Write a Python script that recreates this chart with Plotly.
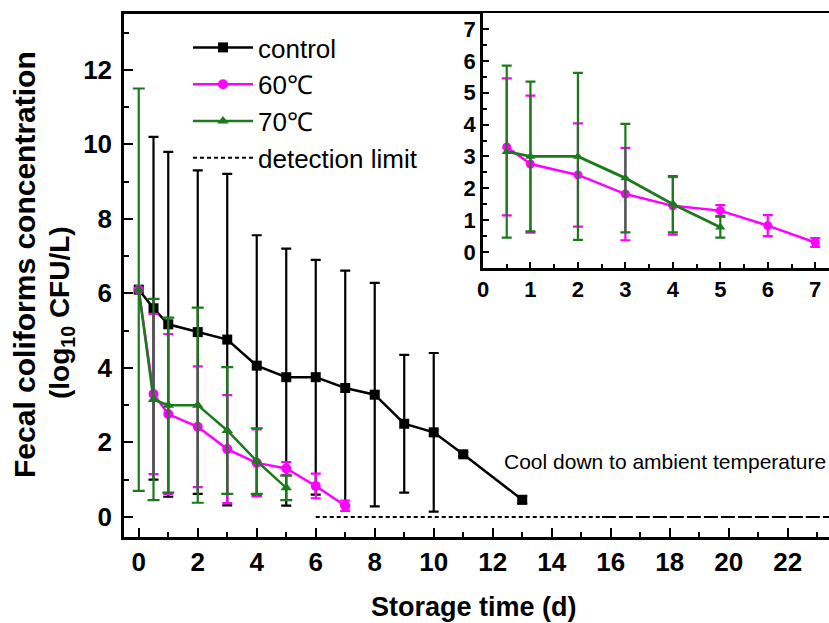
import plotly.graph_objects as go

# ---------------- data ----------------
control_x = [0, 0.5, 1, 2, 3, 4, 5, 6, 7, 8, 9, 10, 11, 13]
control_y = [6.1, 5.6, 5.17, 4.96, 4.76, 4.06, 3.75, 3.75, 3.46, 3.28, 2.5, 2.27, 1.68, 0.46]
control_err = [0, 4.6, 4.63, 4.34, 4.45, 3.5, 3.45, 3.15, 3.15, 3.0, 1.85, 2.13, 0.05, 0.1]

t60_x = [0, 0.5, 1, 2, 3, 4, 5, 6, 7]
t60_y = [6.1, 3.3, 2.76, 2.42, 1.82, 1.45, 1.3, 0.83, 0.3]
t60_err = [0, 2.15, 2.15, 1.62, 1.45, 0.9, 0.17, 0.33, 0.14]

t70_x = [0, 0.5, 1, 2, 3, 4, 5]
t70_y = [6.1, 3.15, 3.0, 3.0, 2.32, 1.5, 0.78]
t70_err = [5.4, 2.7, 2.35, 2.62, 1.7, 0.88, 0.33]

detect_dot_x = [6, 15.7]
detect_dash_x = [15.7, 23.6]
detect_y = [0, 0]

main_xticks = [0, 2, 4, 6, 8, 10, 12, 14, 16, 18, 20, 22]
main_yticks = [0, 2, 4, 6, 8, 10, 12]
inset_xticks = [0, 1, 2, 3, 4, 5, 6, 7]
inset_yticks = [0, 1, 2, 3, 4, 5, 6, 7]

BLACK = "#000000"
MAGENTA = "#FF00FF"
GREEN = "#1C7A1C"
FONT = "Liberation Sans, Arial, sans-serif"

W, H = 829, 623

fig = go.Figure()


def series(x, y, e, name, color, symbol, size, xa, ya, show, lw=2.5, cap=5):
    return go.Scatter(
        x=x, y=y, name=name, mode="lines+markers",
        line=dict(color=color, width=lw),
        marker=dict(symbol=symbol, size=size, color=color),
        error_y=dict(type="data", array=e, visible=True, color=color,
                     thickness=2.2, width=cap),
        xaxis=xa, yaxis=ya, showlegend=show,
    )


fig.add_trace(series(control_x, control_y, control_err, "control", BLACK, "square", 10, "x", "y", True))
fig.add_trace(series(t60_x, t60_y, t60_err, "60\u2103", MAGENTA, "circle", 10, "x", "y", True))
fig.add_trace(series(t70_x, t70_y, t70_err, "70\u2103", GREEN, "triangle-up", 10, "x", "y", True, cap=6))
fig.add_trace(go.Scatter(x=detect_dot_x, y=detect_y, name="detection limit", mode="lines",
                         line=dict(color=BLACK, width=2, dash="4px,3px"), xaxis="x", yaxis="y"))
fig.add_trace(go.Scatter(x=detect_dash_x, y=detect_y, mode="lines", showlegend=False,
                         line=dict(color=BLACK, width=2, dash="14px,3px"), xaxis="x", yaxis="y"))

# inset
fig.add_trace(series(t60_x[1:], t60_y[1:], t60_err[1:], "60\u2103", MAGENTA, "circle", 9, "x2", "y2", False))
fig.add_trace(series(t70_x[1:], t70_y[1:], t70_err[1:], "70\u2103", GREEN, "triangle-up", 9, "x2", "y2", False, lw=2.8))

x0, x1 = 124 / W, 1.0
y0, y1 = 1 - 537 / H, 1 - 14 / H
ix0 = 483 / W
iy0, iy1 = 1 - 268 / H, 1 - 13 / H

axis_common = dict(showline=True, linecolor=BLACK, linewidth=2.5, ticks="inside",
                   tickcolor=BLACK, tickwidth=2, showgrid=False, zeroline=False,
                   automargin=False)

fig.update_layout(
    width=W, height=H,
    margin=dict(l=0, r=0, t=0, b=0),
    paper_bgcolor="white", plot_bgcolor="white",
    font=dict(family=FONT, color=BLACK),
    showlegend=True,
    legend=dict(x=188 / W, y=1 - 24 / H, xanchor="left", yanchor="top",
                bgcolor="rgba(0,0,0,0)", font=dict(size=26, family=FONT),
                itemwidth=60, tracegroupgap=0),
    xaxis=dict(domain=[x0, x1], range=[-0.5, 23.4], tickvals=main_xticks,
               ticklen=9, mirror=True,
               minor=dict(dtick=1, ticklen=5, ticks="inside", tickcolor=BLACK, tickwidth=2),
               tickfont=dict(size=26, family=FONT, weight="bold"),
               anchor="y", **axis_common),
    yaxis=dict(domain=[y0, y1], range=[-0.54, 13.5], tickvals=main_yticks,
               ticklen=9, ticklabelstandoff=4,
               minor=dict(dtick=1, ticklen=5, ticks="inside", tickcolor=BLACK, tickwidth=2),
               tickfont=dict(size=26, family=FONT, weight="bold"),
               anchor="x", **axis_common),
    xaxis2=dict(domain=[ix0, 1.0], range=[0, 7.29], tickvals=inset_xticks,
                ticklen=6,
                minor=dict(dtick=0.5, ticklen=4, ticks="inside", tickcolor=BLACK, tickwidth=1.5),
                tickfont=dict(size=22, family=FONT, weight="bold"),
                anchor="y2", **axis_common),
    yaxis2=dict(domain=[iy0, iy1], range=[-0.5, 7.5], tickvals=inset_yticks,
                ticklen=6,
                minor=dict(dtick=0.5, ticklen=4, ticks="inside", tickcolor=BLACK, tickwidth=1.5),
                tickfont=dict(size=22, family=FONT, weight="bold"),
                anchor="x2", **axis_common),
    annotations=[
        dict(text="Fecal coliforms concentration", textangle=-90, x=24 / W, y=1 - 265 / H,
             xref="paper", yref="paper", xanchor="center", yanchor="middle", showarrow=False,
             font=dict(size=30, family=FONT, weight="bold")),
        dict(text="(log<sub>10</sub> CFU/L)", textangle=-90, x=61 / W, y=1 - 313 / H,
             xref="paper", yref="paper", xanchor="center", yanchor="middle", showarrow=False,
             font=dict(size=28, family=FONT, weight="bold")),
        dict(text="Storage time (d)", x=474 / W, y=1 - 607 / H,
             xref="paper", yref="paper", xanchor="center", yanchor="middle", showarrow=False,
             font=dict(size=27, family=FONT, weight="bold")),
        dict(text="Cool down to ambient temperature", x=12.3, y=1.48, xref="x", yref="y",
             xanchor="left", showarrow=False, font=dict(size=21, family=FONT)),
    ],
)

fig.write_html("out.html", config={"displayModeBar": False},
               post_script="document.body.style.margin='0px';document.body.style.overflow='hidden';")
